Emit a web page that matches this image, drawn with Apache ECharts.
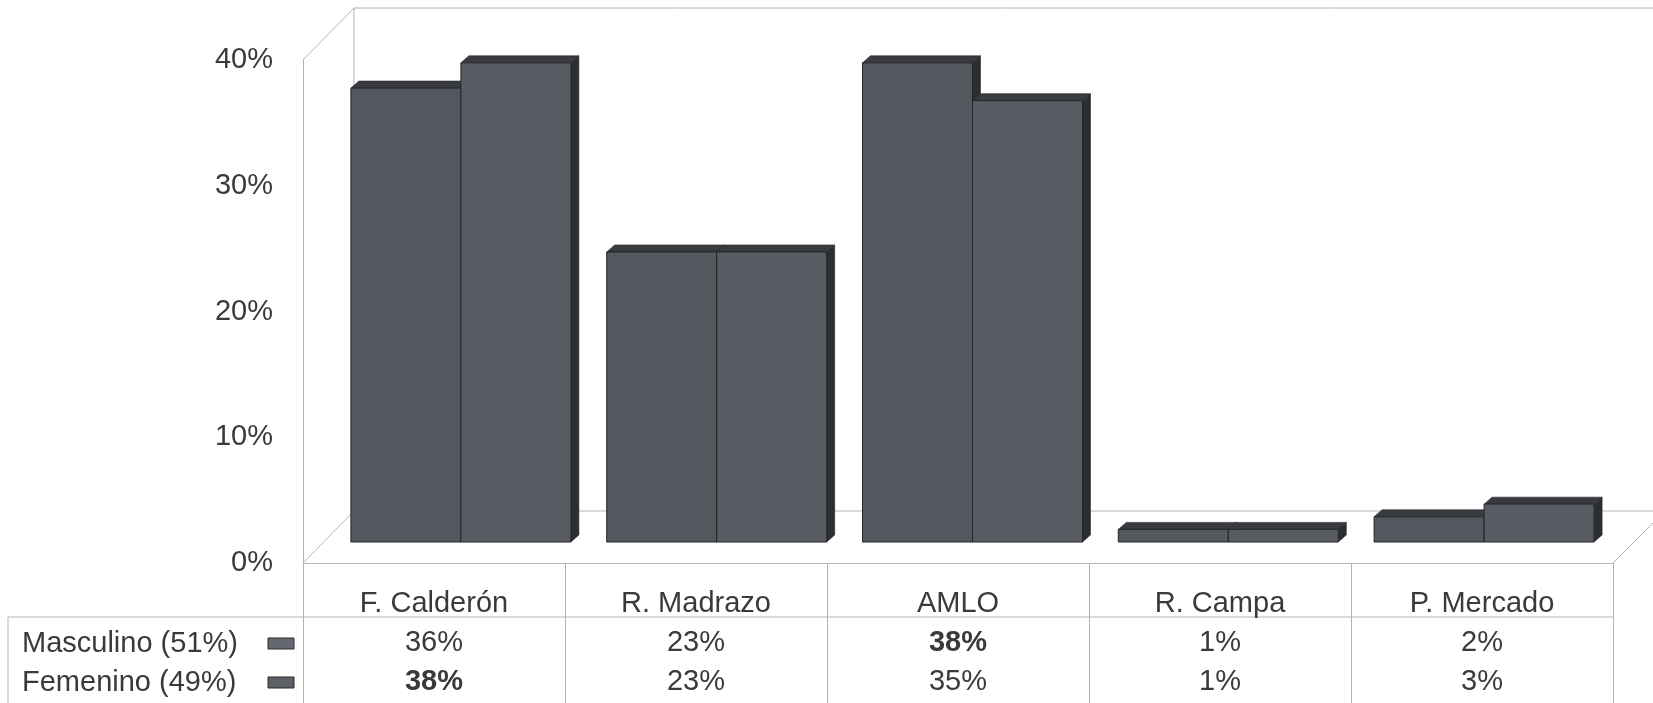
<!DOCTYPE html>
<html><head><meta charset="utf-8">
<script src="https://cdn.jsdelivr.net/npm/echarts@6/dist/echarts.min.js"></script>
<style>html,body{margin:0;padding:0;background:#fff}#c{width:1653px;height:703px}</style>
</head><body><div id="c"></div>
<script>
const categories = ['F. Calderón', 'R. Madrazo', 'AMLO', 'R. Campa', 'P. Mercado'];
const seriesNames = ['Masculino (51%)', 'Femenino (49%)'];
const masculino = [36, 23, 38, 1, 2];
const femenino = [38, 23, 35, 1, 3];
const yTicks = [0, 10, 20, 30, 40];

const FONT = "'Liberation Sans', Arial, sans-serif";
const TXT = '#3a3a3a';
const LINE = '#b4b4b4';
const frontColors = ['#54575d', '#585b61'];
const topColor = '#393b40';
const sideColor = '#2c2e32';

const mMax = Math.max(...masculino);
const fMax = Math.max(...femenino);

function render3D(idx) {
  return function (params, api) {
    const cat = api.value(0), val = api.value(1);
    const base = api.coord([cat, 0]);
    const top = api.coord([cat, val]);
    const band = api.size([1, 0])[0];
    const bw = band * 0.43;
    const x0 = base[0] + (idx === 0 ? -bw : 0);
    const x1 = x0 + bw;
    const y0 = top[1], y1 = base[1];
    const dx = 8, dy = 7;
    return {
      type: 'group',
      children: [
        { type: 'polygon', shape: { points: [[x1, y0], [x1 + dx, y0 - dy], [x1 + dx, y1 - dy], [x1, y1]] },
          style: { fill: sideColor, stroke: '#25282c', lineWidth: 0.6 } },
        { type: 'polygon', shape: { points: [[x0, y0], [x0 + dx, y0 - dy], [x1 + dx, y0 - dy], [x1, y0]] },
          style: { fill: topColor, stroke: '#25282c', lineWidth: 0.6 } },
        { type: 'rect', shape: { x: x0, y: y0, width: bw, height: y1 - y0 },
          style: { fill: frontColors[idx], stroke: '#22252b', lineWidth: 1 } }
      ]
    };
  };
}

function ln(x1, y1, x2, y2) {
  return { type: 'line', z: -5, shape: { x1, y1, x2, y2 }, style: { stroke: LINE, lineWidth: 1 }, silent: true };
}

const chart = echarts.init(document.getElementById('c'), null, { renderer: 'canvas' });
chart.setOption({
  backgroundColor: '#ffffff',
  animation: false,
  textStyle: { fontFamily: FONT },
  graphic: [
    ln(303, 60, 354, 8),
    ln(354, 8, 1653, 8),
    ln(354, 8, 354, 511),
    ln(354, 511, 1653, 511),
    ln(303, 563, 354, 511),
    ln(1613, 563, 1653, 523),
    ln(8, 617, 1613, 617),
    ln(8, 617, 8, 703)
  ],
  legend: {
    orient: 'vertical',
    left: 22, top: 629,
    icon: 'rect',
    itemWidth: 26, itemHeight: 11, itemGap: 10,
    align: 'right',
    padding: 0,
    data: seriesNames,
    itemStyle: { borderColor: '#2a2a2a', borderWidth: 1 },
    formatter: '{a|{name}}',
    textStyle: {
      rich: { a: { width: 241, align: 'left', fontSize: 29, lineHeight: 29, color: TXT, fontFamily: FONT } }
    }
  },
  grid: [
    { left: 303, right: 40, top: 60, height: 503 },
    { left: 333, right: 41, top: 37.6, height: 504.4 }
  ],
  xAxis: [
    {
      type: 'category', gridIndex: 0, data: categories,
      axisLine: { show: true, lineStyle: { color: LINE, width: 1 } },
      axisTick: { show: true, interval: 0, length: 140, lineStyle: { color: LINE, width: 1 } },
      axisLabel: {
        interval: 0, margin: 21,
        formatter: function (v, i) {
          const m = (masculino[i] === mMax ? 'b' : 'n');
          const f = (femenino[i] === fMax ? 'b' : 'n');
          return '{c|' + v + '}\n{' + m + '|' + masculino[i] + '%}\n{' + f + '|' + femenino[i] + '%}';
        },
        rich: {
          c: { fontSize: 29, lineHeight: 39, color: TXT, fontFamily: FONT },
          n: { fontSize: 29, lineHeight: 39, color: TXT, fontFamily: FONT },
          b: { fontSize: 29, lineHeight: 39, color: TXT, fontFamily: FONT, fontWeight: 'bold' }
        }
      },
      splitLine: { show: false }
    },
    {
      type: 'category', gridIndex: 1, data: categories,
      axisLine: { show: false }, axisTick: { show: false }, axisLabel: { show: false }, splitLine: { show: false }
    }
  ],
  yAxis: [
    {
      type: 'value', gridIndex: 0, min: yTicks[0], max: yTicks[yTicks.length - 1], interval: 10,
      axisLine: { show: true, lineStyle: { color: LINE, width: 1 } },
      axisTick: { show: false },
      splitLine: { show: false },
      axisLabel: { formatter: '{value}%', fontSize: 29, color: TXT, margin: 30, fontFamily: FONT }
    },
    {
      type: 'value', gridIndex: 1, min: yTicks[0], max: yTicks[yTicks.length - 1], interval: 10,
      show: false, splitLine: { show: false }
    }
  ],
  series: [
    {
      name: seriesNames[0], type: 'custom', xAxisIndex: 1, yAxisIndex: 1,
      itemStyle: { color: '#65686e' },
      renderItem: render3D(0),
      data: masculino.map((v, i) => [i, v]),
      z: 2
    },
    {
      name: seriesNames[1], type: 'custom', xAxisIndex: 1, yAxisIndex: 1,
      itemStyle: { color: '#5d6066' },
      renderItem: render3D(1),
      data: femenino.map((v, i) => [i, v]),
      z: 3
    }
  ]
});
</script>
</body></html>
